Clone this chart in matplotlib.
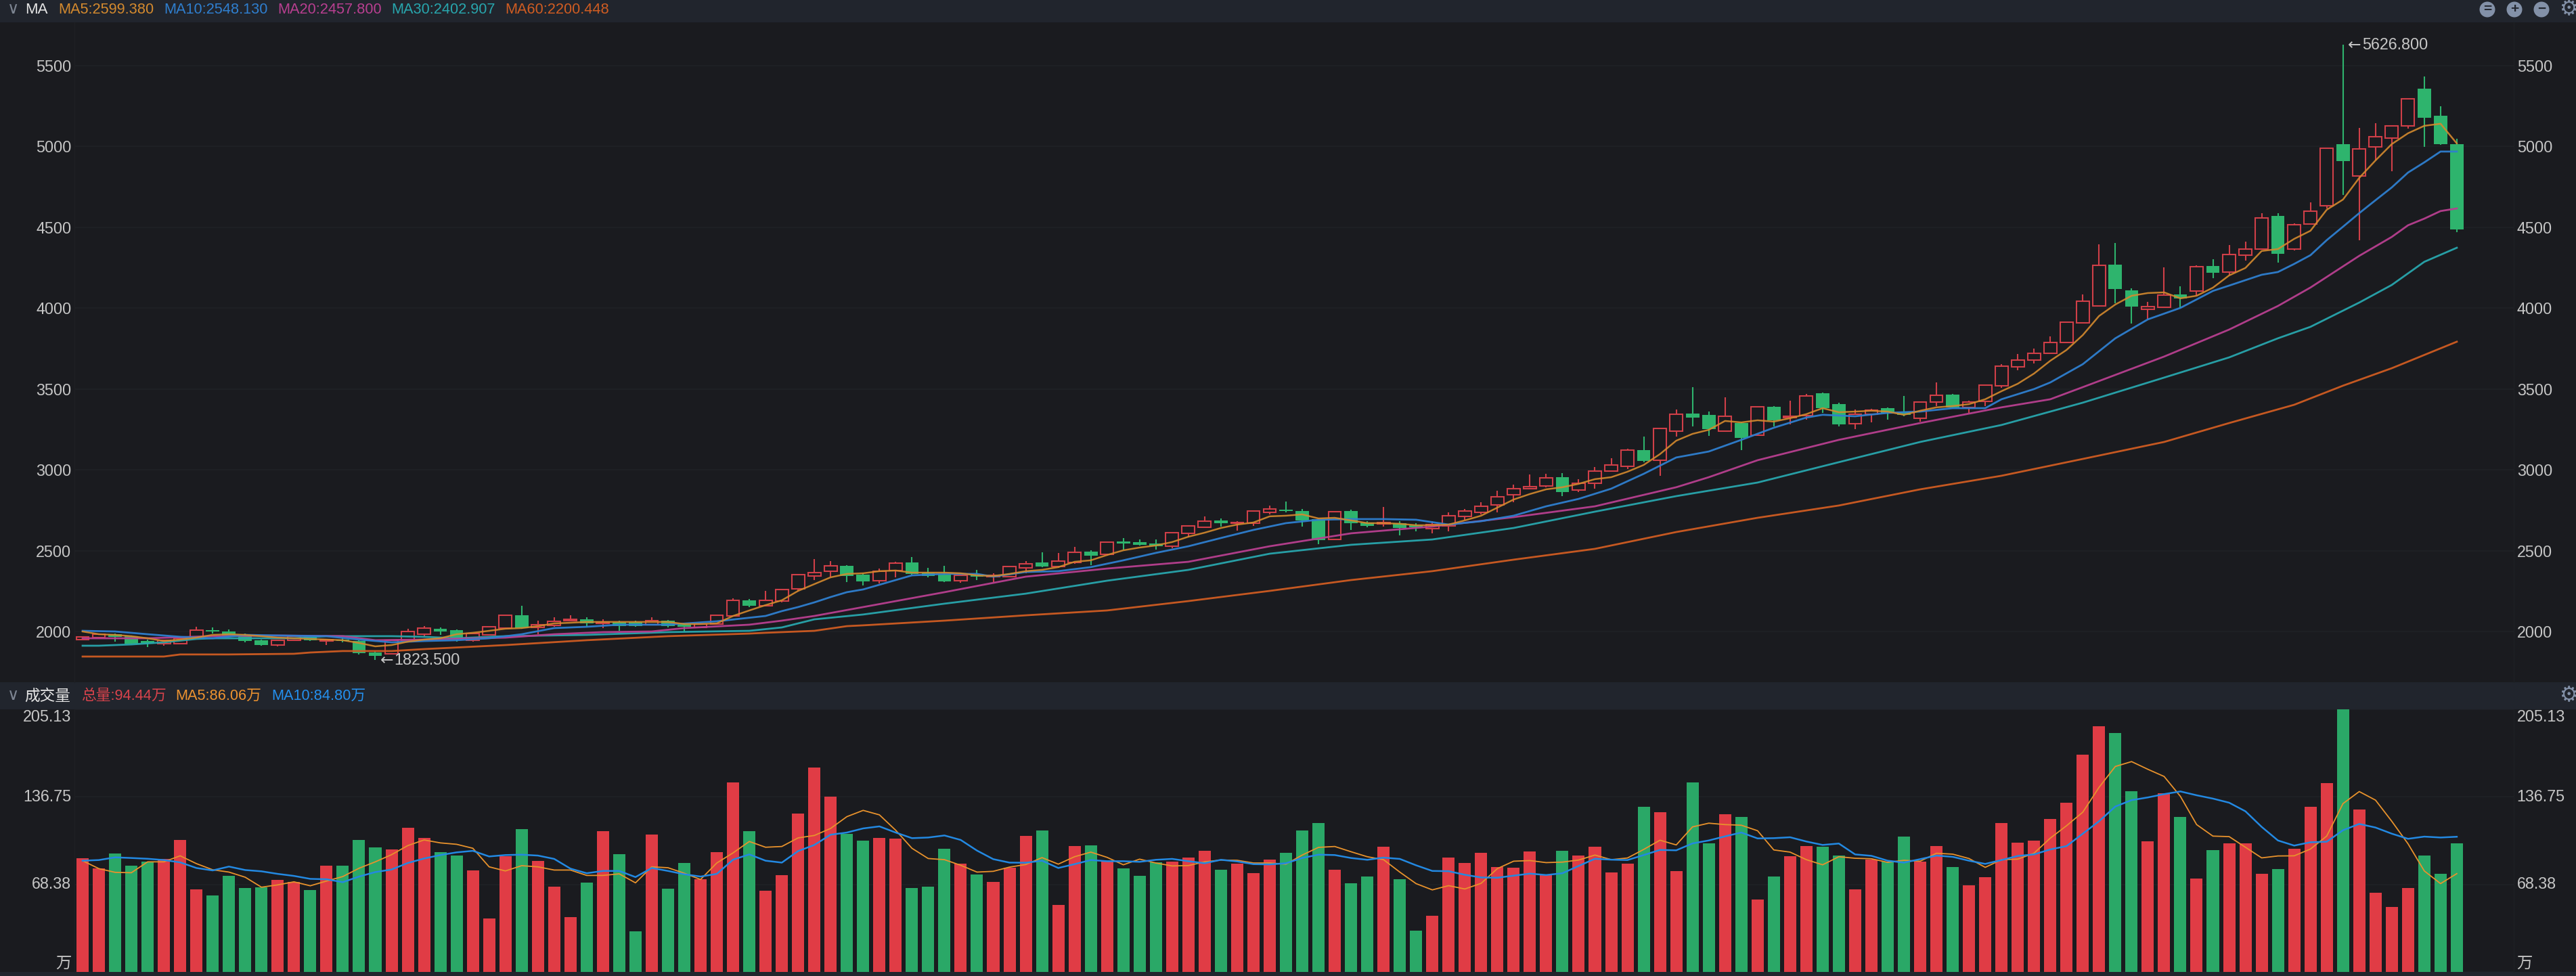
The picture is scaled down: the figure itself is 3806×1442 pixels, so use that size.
import matplotlib
matplotlib.use("Agg")
import matplotlib.pyplot as plt
from matplotlib.patches import Circle, Rectangle

plt.rcParams['font.family'] = ['Liberation Sans', 'Noto Sans CJK SC', 'DejaVu Sans']

W, H = 3806, 1442
BG = "#1a1b1f"
STRIP = "#21252d"
GRID = "#1f2125"
TEXT = "#c6c6c6"
RED = "#cf3f48"
GREEN = "#2eb46d"
VOL_RED = "#e03c45"
VOL_GREEN = "#2aa867"
ICON = "#8391a8"

#---------------------------------------------------------------------------------------------------
# Data
#---------------------------------------------------------------------------------------------------
opens = [1950, 1962, 1983, 1971, 1941, 1925, 1925, 1967, 2008, 2000, 1979, 1946, 1916, 1946, 1971, 1941, 1950, 1941, 1870, 1862,
         1946, 1983, 2017, 2008, 1946, 1979, 2021, 2100, 2025, 2038, 2067, 2075, 2050, 2059, 2059, 2042, 2067, 2042, 2025, 2046,
         2096, 2193, 2159, 2188, 2264, 2343, 2373, 2406, 2352, 2314, 2377, 2427, 2364, 2352, 2314, 2356, 2339, 2339, 2393, 2427,
         2402, 2427, 2494, 2477, 2557, 2553, 2544, 2527, 2607, 2645, 2687, 2670, 2670, 2737, 2753, 2745, 2695, 2569, 2745, 2674,
         2666, 2670, 2657, 2636, 2653, 2712, 2737, 2783, 2846, 2883, 2900, 2954, 2875, 2917, 2992, 3021, 3122, 3059, 3239, 3348,
         3340, 3239, 3289, 3214, 3390, 3323, 3335, 3473, 3406, 3285, 3344, 3381, 3360, 3319, 3419, 3465, 3386, 3423, 3520, 3637,
         3679, 3720, 3787, 3909, 4013, 4269, 4110, 3993, 4005, 4085, 4106, 4260, 4223, 4327, 4365, 4570, 4365, 4520, 4633, 5014,
         4817, 4997, 5052, 5127, 5357, 5190, 5014]
closes = [1967, 1983, 1967, 1925, 1925, 1946, 1958, 2008, 2000, 1975, 1941, 1916, 1946, 1971, 1946, 1950, 1941, 1866, 1849, 1946,
          2000, 2021, 2000, 1950, 1987, 2029, 2100, 2021, 2042, 2063, 2075, 2050, 2059, 2033, 2033, 2067, 2033, 2029, 2046, 2100,
          2193, 2159, 2193, 2260, 2352, 2364, 2406, 2343, 2310, 2373, 2423, 2356, 2343, 2310, 2347, 2339, 2347, 2402, 2419, 2402,
          2435, 2490, 2469, 2553, 2544, 2536, 2527, 2611, 2653, 2682, 2670, 2674, 2745, 2758, 2745, 2687, 2565, 2741, 2670, 2653,
          2674, 2640, 2645, 2661, 2716, 2745, 2774, 2833, 2883, 2896, 2950, 2862, 2917, 2992, 3030, 3122, 3055, 3256, 3344, 3323,
          3252, 3331, 3197, 3390, 3306, 3331, 3457, 3381, 3281, 3344, 3369, 3348, 3340, 3419, 3461, 3386, 3419, 3524, 3641, 3679,
          3720, 3787, 3913, 4043, 4265, 4118, 4009, 4009, 4080, 4060, 4256, 4219, 4332, 4365, 4558, 4336, 4516, 4600, 4989, 4909,
          4985, 5060, 5127, 5294, 5177, 5014, 4486]
highs = [1970, 1987, 1987, 1975, 1950, 1950, 1962, 2029, 2025, 2013, 1987, 1950, 1950, 1979, 1975, 1954, 1962, 1945, 1875, 1950,
         2017, 2033, 2025, 2013, 1992, 2033, 2104, 2159, 2067, 2088, 2100, 2088, 2075, 2067, 2067, 2088, 2071, 2046, 2050, 2104,
         2205, 2201, 2251, 2265, 2356, 2448, 2435, 2410, 2360, 2389, 2431, 2460, 2393, 2406, 2352, 2381, 2360, 2406, 2435, 2490,
         2486, 2523, 2502, 2557, 2578, 2569, 2569, 2615, 2657, 2712, 2699, 2682, 2749, 2779, 2804, 2758, 2699, 2745, 2753, 2682,
         2770, 2682, 2670, 2682, 2737, 2758, 2800, 2871, 2908, 2971, 2975, 2980, 2942, 3017, 3072, 3130, 3206, 3260, 3373, 3511,
         3360, 3448, 3293, 3394, 3394, 3427, 3469, 3478, 3415, 3373, 3377, 3386, 3457, 3423, 3540, 3469, 3427, 3528, 3653, 3716,
         3750, 3825, 3917, 4085, 4394, 4403, 4122, 4039, 4252, 4135, 4265, 4302, 4390, 4411, 4587, 4587, 4524, 4654, 4993, 5626.8,
         5114, 5144, 5131, 5299, 5433, 5248, 5047]
lows = [1948, 1958, 1937, 1920, 1904, 1912, 1920, 1963, 1987, 1967, 1933, 1912, 1908, 1941, 1941, 1916, 1933, 1858, 1823.5, 1858,
        1941, 1971, 1979, 1937, 1937, 1975, 2017, 2017, 1983, 2029, 2063, 2029, 2021, 2004, 2029, 2038, 2025, 2000, 2021, 2042,
        2092, 2151, 2155, 2180, 2247, 2318, 2339, 2306, 2285, 2297, 2335, 2352, 2335, 2306, 2301, 2318, 2306, 2335, 2360, 2398,
        2393, 2419, 2410, 2469, 2507, 2532, 2507, 2515, 2582, 2640, 2649, 2624, 2653, 2724, 2737, 2649, 2540, 2565, 2628, 2645,
        2649, 2594, 2620, 2607, 2620, 2691, 2724, 2737, 2800, 2879, 2892, 2837, 2862, 2883, 2988, 3005, 3047, 2963, 3206, 3268,
        3210, 3235, 3122, 3210, 3268, 3281, 3310, 3352, 3268, 3252, 3293, 3310, 3331, 3298, 3394, 3381, 3352, 3394, 3507, 3616,
        3658, 3716, 3783, 3905, 4009, 4030, 3905, 3930, 4001, 4001, 4076, 4185, 4202, 4294, 4361, 4281, 4357, 4516, 4616, 4700,
        4420, 4913, 4847, 5110, 4997, 5010, 4470]

ma5 = [2000, 1983, 1979, 1971, 1958, 1941, 1950, 1962, 1979, 1983, 1979, 1971, 1962, 1958, 1954, 1950, 1946, 1929, 1908, 1916,
       1937, 1950, 1958, 1983, 1992, 2004, 2017, 2021, 2033, 2050, 2054, 2059, 2059, 2059, 2059, 2059, 2059, 2046, 2046, 2050,
       2096, 2130, 2163, 2193, 2251, 2293, 2335, 2356, 2360, 2373, 2377, 2364, 2364, 2364, 2360, 2347, 2343, 2356, 2373, 2381,
       2398, 2431, 2440, 2473, 2502, 2519, 2532, 2553, 2586, 2611, 2640, 2661, 2674, 2712, 2716, 2724, 2699, 2703, 2687, 2670,
       2670, 2666, 2657, 2657, 2661, 2687, 2716, 2766, 2816, 2850, 2879, 2892, 2913, 2942, 2954, 2988, 3030, 3097, 3180, 3222,
       3247, 3302, 3293, 3306, 3298, 3319, 3344, 3381, 3356, 3360, 3365, 3360, 3340, 3365, 3386, 3394, 3406, 3436, 3486, 3532,
       3595, 3674, 3741, 3833, 3951, 4022, 4076, 4093, 4097, 4060, 4076, 4126, 4202, 4248, 4353, 4365, 4428, 4478, 4608, 4671,
       4805, 4913, 5014, 5081, 5127, 5140, 5018]

ma10_idx = [1, 3, 5, 7, 9, 11, 13, 16, 18, 20, 22, 24, 26, 28, 30, 32, 34, 37, 40, 43, 44, 45, 46, 47, 48, 49, 52, 54, 56, 57,
            59, 61, 63, 65, 67, 69, 71, 73, 75, 77, 79, 81, 83, 85, 87, 89, 91, 93, 95, 97, 99, 101, 103, 105, 107, 108, 110,
            112, 114, 116, 118, 119, 121, 122, 124, 126, 128, 130, 132, 133, 135, 136, 137, 138, 139, 140, 141, 142, 143, 144,
            145, 146, 147]
ma10 = [2004, 2000, 1983, 1967, 1958, 1979, 1975, 1971, 1950, 1933, 1941, 1946, 1958, 1983, 2021, 2029, 2042, 2042, 2063, 2096,
        2126, 2151, 2180, 2213, 2243, 2260, 2347, 2356, 2356, 2339, 2368, 2373, 2398, 2440, 2486, 2527, 2578, 2628, 2670, 2691,
        2695, 2695, 2691, 2661, 2682, 2716, 2774, 2820, 2883, 2975, 3076, 3113, 3185, 3260, 3323, 3340, 3331, 3352, 3360, 3381,
        3381, 3436, 3499, 3540, 3653, 3813, 3930, 4001, 4106, 4139, 4206, 4223, 4273, 4327, 4420, 4503, 4587, 4667, 4746, 4838,
        4901, 4968, 4968]

ma20_idx = [1, 5, 9, 13, 17, 19, 22, 27, 30, 33, 36, 38, 42, 44, 46, 49, 54, 59, 64, 69, 74, 79, 84, 89, 94, 99, 101, 104, 109,
            114, 119, 122, 124, 129, 133, 136, 138, 141, 143, 144, 145, 146, 147]
ma20 = [1958, 1958, 1971, 1975, 1971, 1946, 1950, 1962, 1983, 1996, 2000, 2021, 2042, 2067, 2096, 2151, 2243, 2339, 2389, 2431,
        2527, 2607, 2649, 2707, 2774, 2892, 2954, 3059, 3185, 3289, 3386, 3436, 3511, 3700, 3867, 4013, 4127, 4323, 4440, 4512,
        4553, 4600, 4616]

ma30_idx = [1, 2, 4, 6, 8, 9, 11, 14, 16, 20, 22, 24, 27, 32, 37, 42, 44, 46, 49, 54, 59, 64, 69, 74, 79, 84, 89, 94, 99, 104,
            109, 114, 119, 124, 129, 133, 136, 138, 141, 143, 145, 147]
ma30 = [1912, 1912, 1920, 1933, 1954, 1958, 1958, 1958, 1971, 1971, 1967, 1958, 1971, 1979, 1996, 2004, 2025, 2075, 2105, 2172,
        2234, 2314, 2381, 2481, 2536, 2569, 2640, 2741, 2837, 2921, 3047, 3172, 3277, 3415, 3570, 3695, 3813, 3884, 4034, 4143,
        4286, 4373]

ma60_idx = [1, 6, 7, 10, 14, 15, 17, 20, 22, 27, 32, 37, 42, 43, 46, 48, 49, 54, 59, 64, 69, 74, 79, 84, 89, 94, 99, 104, 109,
            114, 119, 124, 129, 133, 137, 140, 143, 147]
ma60 = [1845, 1845, 1858, 1858, 1862, 1870, 1879, 1879, 1891, 1916, 1946, 1971, 1987, 1992, 2004, 2033, 2038, 2067, 2100, 2130,
        2188, 2251, 2318, 2373, 2444, 2511, 2615, 2703, 2779, 2879, 2963, 3067, 3172, 3289, 3402, 3520, 3628, 3792]

volume = [88.8, 80.7, 92.5, 83.0, 86.0, 88.1, 103.1, 64.4, 59.7, 75.0, 65.5, 66.0, 71.8, 70.3, 63.9, 83.0, 83.0, 103.1, 97.3, 95.7,
          112.6, 104.7, 93.5, 90.9, 79.3, 41.7, 90.4, 111.5, 86.7, 66.5, 42.7, 69.7, 110.0, 92.0, 31.6, 107.3, 65.0, 85.1, 72.4, 93.5,
          148.1, 110.0, 63.4, 75.5, 123.7, 159.8, 137.0, 107.9, 102.6, 104.7, 104.1, 65.5, 66.5, 96.2, 84.6, 76.1, 70.3, 81.4, 106.3, 110.5,
          52.2, 98.3, 98.9, 86.7, 80.8, 75.0, 85.6, 86.1, 89.3, 94.6, 79.8, 84.6, 77.1, 87.7, 93.0, 110.5, 116.3, 79.8, 69.2, 74.5,
          97.8, 72.4, 32.1, 43.8, 89.3, 85.1, 93.0, 81.9, 81.4, 94.1, 76.0, 94.6, 90.9, 97.8, 77.7, 84.6, 129.0, 124.8, 78.7, 148.1,
          100.4, 123.2, 121.1, 56.5, 74.5, 90.4, 98.3, 97.8, 90.9, 64.4, 87.7, 86.0, 105.7, 86.1, 98.3, 81.9, 67.6, 74.0, 116.3, 101.0,
          102.6, 119.5, 132.2, 169.8, 192.0, 186.7, 141.2, 102.0, 139.6, 121.1, 72.9, 95.1, 100.4, 100.4, 76.6, 80.3, 96.2, 129.0, 147.6, 205.13,
          126.9, 61.8, 50.7, 65.5, 90.9, 76.6, 100.4]
vol_ma5 = [86.9, 80.7, 77.8, 77.5, 86.0, 86.0, 90.7, 84.6, 79.8, 78.0, 74.0, 66.2, 68.0, 70.4, 67.3, 71.0, 74.5, 81.0, 86.0, 91.6,
           98.7, 103.1, 100.8, 99.7, 96.6, 82.1, 78.9, 83.0, 82.1, 79.6, 79.6, 75.4, 75.4, 76.6, 69.6, 82.1, 81.4, 77.1, 72.2, 85.1,
           93.0, 101.9, 97.4, 98.0, 104.7, 106.6, 112.1, 121.3, 126.2, 122.7, 110.7, 96.6, 88.6, 87.7, 83.3, 78.0, 78.6, 81.9, 83.9, 89.3,
           84.2, 90.0, 93.6, 89.5, 83.7, 88.1, 85.1, 82.8, 83.1, 86.0, 87.4, 87.2, 85.1, 85.1, 84.2, 91.3, 97.3, 98.0, 93.9, 90.0,
           87.7, 78.0, 69.0, 64.1, 67.4, 64.8, 69.2, 80.7, 86.5, 87.0, 85.4, 85.8, 87.4, 91.3, 87.7, 89.0, 95.7, 102.9, 99.2, 113.3,
           116.2, 115.1, 114.6, 110.3, 95.3, 93.6, 87.7, 83.7, 90.0, 88.8, 88.4, 85.6, 87.2, 86.5, 92.7, 92.0, 88.6, 81.7, 87.7, 88.1,
           92.7, 104.5, 114.2, 124.8, 144.2, 160.5, 164.3, 158.3, 152.7, 137.2, 115.1, 106.1, 105.7, 97.4, 89.1, 90.6, 90.7, 96.0, 106.1, 131.5,
           140.9, 134.2, 117.7, 100.1, 78.9, 69.0, 76.8]
vol_ma10 = [86.9, 87.4, 89.5, 89.0, 88.4, 87.4, 85.6, 81.2, 79.3, 82.3, 79.6, 78.6, 76.6, 75.0, 72.7, 72.4, 70.1, 74.5, 78.0, 80.0,
            85.1, 88.6, 91.3, 93.4, 94.6, 90.2, 91.3, 91.6, 90.9, 88.3, 80.7, 77.1, 78.9, 78.9, 74.1, 81.2, 78.9, 76.3, 74.5, 76.6,
            87.7, 91.8, 86.9, 85.4, 94.4, 99.2, 107.2, 108.9, 112.1, 113.7, 108.9, 104.5, 105.0, 106.6, 103.1, 94.8, 88.1, 85.4, 85.3, 86.9,
            81.2, 84.2, 87.4, 86.5, 86.5, 86.0, 87.6, 88.3, 86.5, 84.9, 87.6, 86.3, 84.2, 84.0, 84.9, 89.0, 91.6, 91.3, 89.0, 87.6,
            89.3, 88.3, 83.3, 78.9, 78.7, 75.9, 73.8, 73.6, 75.2, 76.8, 75.7, 77.1, 82.8, 88.4, 87.7, 87.4, 91.3, 95.3, 95.0, 100.4,
            102.7, 105.9, 108.9, 104.3, 104.5, 105.2, 101.9, 99.2, 100.3, 91.8, 90.7, 86.9, 85.4, 88.1, 90.9, 89.9, 86.9, 84.4, 87.4, 90.6,
            91.8, 95.7, 98.3, 108.0, 117.7, 129.2, 134.2, 136.3, 138.9, 141.0, 138.0, 135.4, 132.2, 125.5, 113.3, 102.7, 98.7, 101.3, 101.7, 110.7,
            115.6, 112.8, 108.0, 104.0, 105.7, 105.0, 105.6]

price_ticks = [2000, 2500, 3000, 3500, 4000, 4500, 5000, 5500]
vol_ticks = [0, 68.38, 136.75, 205.13]
vol_tick_labels = ["万", "68.38", "136.75", "205.13"]
ma_labels = ["MA5:2599.380", "MA10:2548.130", "MA20:2457.800", "MA30:2402.907", "MA60:2200.448"]
ma_colors = ["#d48a2e", "#2f7fcf", "#b83f90", "#28a6ad", "#cf5c22"]
vol_labels = ["总量:94.44万", "MA5:86.06万", "MA10:84.80万"]
vol_label_colors = ["#d8434c", "#ee9330", "#2490ee"]

#---------------------------------------------------------------------------------------------------
# Layout helpers
#---------------------------------------------------------------------------------------------------
def PanelAxes(fig, left, top, right, bottom):
    ax = fig.add_axes([left / W, 1 - bottom / H, (right - left) / W, (bottom - top) / H])
    ax.set_facecolor(BG)
    for side in ["top", "bottom"]:
        ax.spines[side].set_visible(False)
    for side in ["left", "right"]:
        ax.spines[side].set_color(GRID)
    ax.set_xticks([])
    ax.set_xlim(0.5, 150.5)
    ax.set_axisbelow(True)
    ax.grid(axis="y", color=GRID, linewidth=1.4)
    ax.tick_params(axis="y", length=0, pad=3.4, labelleft=True, labelright=True, labelsize=16.8, labelcolor=TEXT)
    return ax


def DrawGear(bg, y):
    bg.text(3795, y, "⚙", color=ICON, fontsize=22, ha="center", va="center", family="DejaVu Sans")


def MarkExtreme(ax, i, value, label):
    # arrow glyph comes from DejaVu, Liberation draws it too small
    ax.annotate("←", xy=(i, value), xytext=(7, 0), textcoords="offset pixels", color=TEXT, fontsize=16.8,
                va="center", family="DejaVu Sans")
    ax.annotate(label, xy=(i, value), xytext=(28, 0), textcoords="offset pixels", color=TEXT, fontsize=16.8, va="center")


fig = plt.figure(figsize=(W / 100, H / 100), dpi=100, facecolor=BG)

bg = fig.add_axes([0, 0, 1, 1])
bg.set_xlim(0, W)
bg.set_ylim(H, 0)
bg.axis("off")
bg.add_patch(Rectangle((0, 0), W, 33, color=STRIP, lw=0))
bg.add_patch(Rectangle((0, 1008), W, 40, color=STRIP, lw=0))
bg.add_patch(Rectangle((0, 1436), W, 6, color=STRIP, lw=0))

#---------------------------------------------------------------------------------------------------
# Header strips
#---------------------------------------------------------------------------------------------------
bg.text(20, 13, "∨", color="#7d8592", fontsize=17, ha="center", va="center", family="DejaVu Sans")
bg.text(37, 14, "MA", color="#e6e6e6", fontsize=16, va="center")
for x, label, color in zip([86, 242, 410, 578, 746], ma_labels, ma_colors):
    bg.text(x, 14, label, color=color, fontsize=15.7, va="center")

bg.text(20, 1027, "∨", color="#7d8592", fontsize=17, ha="center", va="center", family="DejaVu Sans")
bg.text(36, 1028, "成交量", color="#e6e6e6", fontsize=16.3, va="center")
for x, label, color in zip([120, 259, 401], vol_labels, vol_label_colors):
    bg.text(x, 1028, label, color=color, fontsize=15.7, va="center")

for x, sign in zip([3675, 3715, 3755], ["=", "+", "−"]):
    bg.add_patch(Circle((x, 14), 11.5, color=ICON, lw=0))
    bg.text(x, 13.5, sign, color=STRIP, fontsize=15, fontweight="bold", ha="center", va="center")
DrawGear(bg, 14)
DrawGear(bg, 1028)

#---------------------------------------------------------------------------------------------------
# Candlestick panel
#---------------------------------------------------------------------------------------------------
ax = PanelAxes(fig, 110, 33, 3714, 1008)
ax.set_ylim(1686, 5767)
ax.set_yticks(price_ticks)
ax.set_yticklabels([str(t) for t in price_ticks])

idx = list(range(1, len(closes) + 1))
up = [c >= o for o, c in zip(opens, closes)]
wick_colors = [RED if u else GREEN for u in up]
ax.vlines(idx, lows, highs, colors=wick_colors, linewidth=1.5, zorder=2)
for i, o, c, u in zip(idx, opens, closes, up):
    bottom, height = min(o, c), abs(c - o)
    if u:
        ax.bar(i, height, 0.78, bottom=bottom, facecolor=BG, edgecolor=RED, linewidth=1.5, zorder=3)
    else:
        ax.bar(i, height, 0.82, bottom=bottom, color=GREEN, linewidth=0, zorder=3)

ax.plot(ma60_idx, ma60, color=ma_colors[4], linewidth=2.0, alpha=0.95, zorder=4)
ax.plot(ma30_idx, ma30, color=ma_colors[3], linewidth=2.0, alpha=0.95, zorder=4)
ax.plot(ma20_idx, ma20, color=ma_colors[2], linewidth=2.0, alpha=0.95, zorder=4)
ax.plot(ma10_idx, ma10, color=ma_colors[1], linewidth=2.0, alpha=0.95, zorder=4)
ax.plot(idx, ma5, color=ma_colors[0], linewidth=1.8, alpha=0.9, zorder=4)

MarkExtreme(ax, 140, 5626.8, "5626.800")
MarkExtreme(ax, 19, 1823.5, "1823.500")

#---------------------------------------------------------------------------------------------------
# Volume panel
#---------------------------------------------------------------------------------------------------
vax = PanelAxes(fig, 110, 1048, 3714, 1436)
vax.set_ylim(0, 205.13)
vax.set_yticks(vol_ticks)
vax.set_yticklabels(vol_tick_labels)
for tick, va in zip(vax.yaxis.get_major_ticks(), ["bottom", "center", "center", "top"]):
    tick.label1.set_va(va)
    tick.label2.set_va(va)

vax.bar(idx, volume, 0.75, color=[VOL_RED if u else VOL_GREEN for u in up], linewidth=0, zorder=2)
vax.plot(idx, vol_ma5, color="#e8922c", linewidth=1.3, zorder=3)
vax.plot(idx, vol_ma10, color="#2389e2", linewidth=1.8, zorder=3)

fig.savefig("out.png", dpi=100, facecolor=BG)
